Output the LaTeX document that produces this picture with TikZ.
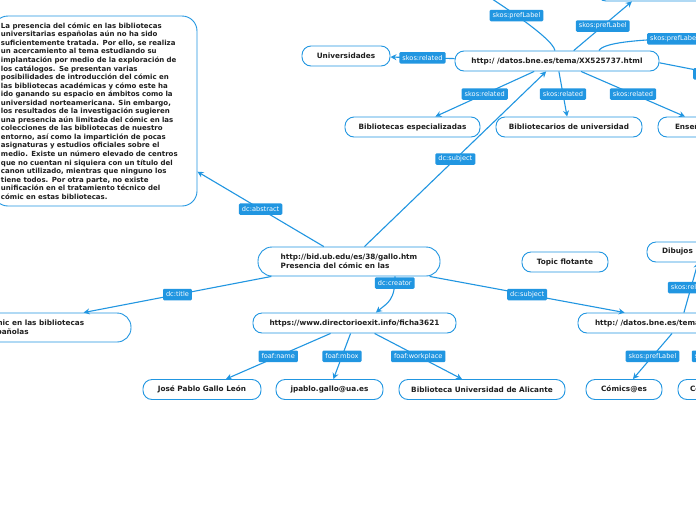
\documentclass[tikz,border=0pt]{standalone}
\usepackage{fontspec}
\setmainfont{DejaVu Sans}
\usetikzlibrary{arrows.meta,calc}
\definecolor{mblue}{RGB}{33,150,225}
\tikzset{
 box/.style={draw=mblue, line width=0.9pt, fill=white, rounded corners=9pt, minimum height=20pt, inner sep=0pt, font=\fontsize{7.3}{9}\selectfont\bfseries, text=black!88},
 lbl/.style={fill=mblue, text=white, rounded corners=1.2pt, inner xsep=3pt, inner ysep=0pt, minimum height=11.5pt, font=\fontsize{6.6}{7}\selectfont},
 conn/.style={draw=mblue, line width=1.1pt, -{Stealth[length=6pt,width=6pt]}},
}
\begin{document}
\begin{tikzpicture}[x=1pt,y=1pt]
\useasboundingbox (0,0) rectangle (696,-520);
\clip (0,0) rectangle (696,-520);
\fill[white] (0,0) rectangle (696,-520);
% nodes
\node[box, rounded corners=15pt, minimum width=204pt, minimum height=190pt, text width=188pt, align=left, font=\fontsize{7}{8.55}\selectfont\bfseries] (abs) at (95,-111) {La presencia del cómic en las bibliotecas\\
universitarias españolas aún no ha sido\\
suficientemente tratada. Por ello, se realiza\\
un acercamiento al tema estudiando su\\
implantación por medio de la exploración de\\
los catálogos. Se presentan varias\\
posibilidades de introducción del cómic en\\
las bibliotecas académicas y cómo este ha\\
ido ganando su espacio en ámbitos como la\\
universidad norteamericana. Sin embargo,\\
los resultados de la investigación sugieren\\
una presencia aún limitada del cómic en las\\
colecciones de las bibliotecas de nuestro\\
entorno, así como la impartición de pocas\\
asignaturas y estudios oficiales sobre el\\
medio. Existe un número elevado de centros\\
que no cuentan ni siquiera con un título del\\
canon utilizado, mientras que ninguno los\\
tiene todos. Por otra parte, no existe\\
unificación en el tratamiento técnico del\\
cómic en estas bibliotecas.};
\node[box, rounded corners=14pt, minimum width=182pt, minimum height=29pt, align=left] (cen) at (349,-261.5) {http://bid.ub.edu/es/38/gallo.htm\\Presencia del cómic en las};
\node[box, minimum width=204pt] (hub) at (557,-61) {http:/ /datos.bne.es/tema/XX525737.html};
\node[box, minimum width=88pt] (uni) at (346,-56) {Universidades};
\node[box, minimum width=135pt] (bes) at (412.5,-127) {Bibliotecas especializadas};
\node[box, minimum width=146pt] (bdu) at (569,-127) {Bibliotecarios de universidad};
\node[box, minimum width=102pt] (ens) at (709,-127) {\makebox[68pt][l]{Enseñanza}};
\node[box, minimum width=203pt, minimum height=25pt] (trbox) at (698.5,11.5) {};
\node[box, minimum width=86pt] (topic) at (565,-262) {Topic flotante};
\node[box, minimum width=108pt] (dib) at (701,-252) {\makebox[78pt][l]{Dibujos}};
\node[box, minimum width=206pt] (bh) at (681,-323) {\makebox[172pt][l]{http:/ /datos.bne.es/tema/}};
\node[box, minimum width=76pt] (com) at (624,-389.5) {Cómics@es};
\node[box, minimum width=76pt] (c2) at (716,-389.5) {\makebox[52pt][l]{Comics@en}};
\node[box, rounded corners=14pt, minimum width=250pt, minimum height=29pt, align=left] (tit) at (6,-327.5) {Presencia del cómic en las bibliotecas\\universitarias españolas};
\node[box, minimum width=203pt] (cre) at (354.5,-323) {https://www.directorioexit.info/ficha3621};
\node[box, minimum width=118pt] (jose) at (202,-389.5) {José Pablo Gallo León};
\node[box, minimum width=107pt] (jp) at (329.5,-389.5) {jpablo.gallo@ua.es};
\node[box, minimum width=166pt] (bua) at (482,-389.5) {Biblioteca Universidad de Alicante};
% free ends
\coordinate (tl) at (471,15);
\coordinate (rt1) at (756,-37);
\coordinate (rt2) at (773,-85);
% connectors
\draw[conn] (cen) -- node[lbl]{dc:abstract} (abs);
\draw[conn] (cen) -- node[lbl]{dc:subject} (hub);
\draw[conn] (cen) -- node[lbl]{dc:title} (tit);
\draw[conn] (cen) -- node[lbl]{dc:subject} (bh);
\draw[conn] (cen.-18.6) .. controls +(0,-24) and +(12,10) .. node[lbl,pos=0.1]{dc:creator} (cre.26);
\draw[conn] (cre) -- node[lbl]{foaf:name} (jose);
\draw[conn] (cre) -- node[lbl]{foaf:mbox} (jp);
\draw[conn] (cre) -- node[lbl]{foaf:workplace} (bua);
\draw[conn] (hub) -- node[lbl]{skos:related} (uni);
\draw[conn] (hub) -- node[lbl]{skos:related} (bes);
\draw[conn] (hub) -- node[lbl]{skos:related} (bdu);
\draw[conn] (hub) -- node[lbl]{skos:related} (ens);
\draw[conn] (hub.101) to[out=100,in=-35,looseness=0.35] node[lbl]{skos:prefLabel} (tl);
\draw[conn] (hub.32) -- node[lbl]{skos:prefLabel} (trbox.191);
\draw[conn] (hub.14.4) to[out=60,in=188,looseness=0.3] node[lbl]{skos:prefLabel} (rt1);
\draw[conn] (hub.-1) -- node[lbl]{skos:related} (rt2);
\draw[conn] (bh) -- node[lbl]{skos:related} (dib);
\draw[conn] (bh) -- node[lbl]{skos:prefLabel} (com);
\draw[conn] (bh.-17.9) -- node[lbl]{skos:prefLabel} (c2.60);
\end{tikzpicture}
\end{document}
